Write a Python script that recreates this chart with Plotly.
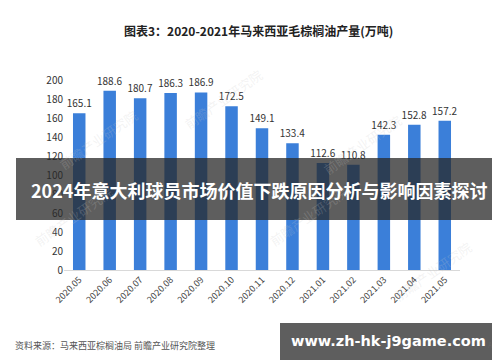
import plotly.graph_objects as go

months = ["2020.05", "2020.06", "2020.07", "2020.08", "2020.09", "2020.10", "2020.11",
          "2020.12", "2021.01", "2021.02", "2021.03", "2021.04", "2021.05"]
output = [165.1, 188.6, 180.7, 186.3, 186.9, 172.5, 149.1, 133.4, 112.6, 110.8, 142.3, 152.8, 157.2]
y_ticks = [0, 20, 40, 60, 80, 100, 120, 140, 160, 180, 200]

title_text = "图表3：2020-2021年马来西亚毛棕榈油产量(万吨)"
source_text = "资料来源：马来西亚棕榈油局 前瞻产业研究院整理"
banner_text = "2024年意大利球员市场价值下跌原因分析与影响因素探讨"
badge_text = "www.zh-hk-j9game.com"

W, H = 500, 362
L, R, T, B = 56, 48, 72, 100
PW, PH = W - L - R, H - T - B


def px(x):
    return (x - L) / PW


def py(y):
    return (H - B - y) / PH


FONT = "Noto Sans CJK SC"

fig = go.Figure()
fig.add_trace(go.Bar(
    x=months, y=output,
    marker=dict(color="#3b7fd9", line=dict(width=0)),
    width=0.41,
    text=[f"{v:.1f}" for v in output],
    textposition="outside",
    constraintext="none",
    textfont=dict(family=FONT, size=10, color="#333333"),
    cliponaxis=False,
))

annotations = [
    dict(text=f"<b>{title_text}</b>", x=px(250), y=py(22), xref="paper", yref="paper",
         showarrow=False, font=dict(family=FONT, size=12, color="#222222"),
         xanchor="center", yanchor="middle"),
    dict(text=source_text, x=px(5), y=py(337), xref="paper", yref="paper",
         showarrow=False, font=dict(family=FONT, size=9, color="#555555"),
         xanchor="left", yanchor="middle"),
    dict(text="APP", x=px(496), y=py(337), xref="paper", yref="paper",
         showarrow=False, font=dict(family=FONT, size=7, color="#666666"),
         xanchor="right", yanchor="middle"),
]

# faint watermarks
for (wx, wy) in [(45, 95), (215, 55), (300, 245), (400, 100), (470, 300), (20, 245)]:
    annotations.append(dict(text="前瞻产业研究院", x=px(wx), y=py(wy), xref="paper", yref="paper",
                            showarrow=False, textangle=-35,
                            font=dict(family=FONT, size=13, color="rgba(200,200,200,0.22)")))

shapes = [
    dict(type="rect", xref="paper", yref="paper", x0=px(8), x1=px(493), y0=py(212), y1=py(150),
         fillcolor="rgba(40,40,40,0.75)", line=dict(width=0), layer="above"),
    dict(type="rect", xref="paper", yref="paper", x0=px(272), x1=px(491), y0=py(352), y1=py(315),
         fillcolor="#5e5e5e", line=dict(width=0), layer="above"),
]

annotations += [
    dict(text=f"<b>{banner_text}</b>", x=px(250.5), y=py(182), xref="paper", yref="paper",
         showarrow=False, font=dict(family=FONT, size=18, color="white"),
         xanchor="center", yanchor="middle"),
    dict(text=f"<b>{badge_text}</b>", x=px(380), y=py(333), xref="paper", yref="paper",
         showarrow=False, font=dict(family="DejaVu Sans", size=14.5, color="white"),
         xanchor="center", yanchor="middle"),
]

fig.update_layout(
    width=W, height=H,
    margin=dict(l=L, r=R, t=T, b=B),
    paper_bgcolor="white", plot_bgcolor="white",
    showlegend=False,
    bargap=0.59,
    annotations=annotations,
    shapes=shapes,
    xaxis=dict(
        type="category", tickangle=-45,
        tickfont=dict(family=FONT, size=9, color="#444444"),
        showline=True, linecolor="#d9d9d9", linewidth=1,
        ticks="", showgrid=False,
    ),
    yaxis=dict(
        range=[0, 200], tickvals=y_ticks,
        tickfont=dict(family=FONT, size=10, color="#333333"),
        showgrid=False, zeroline=False, showline=False, ticks="",
    ),
)

fig.write_html("out.html")
